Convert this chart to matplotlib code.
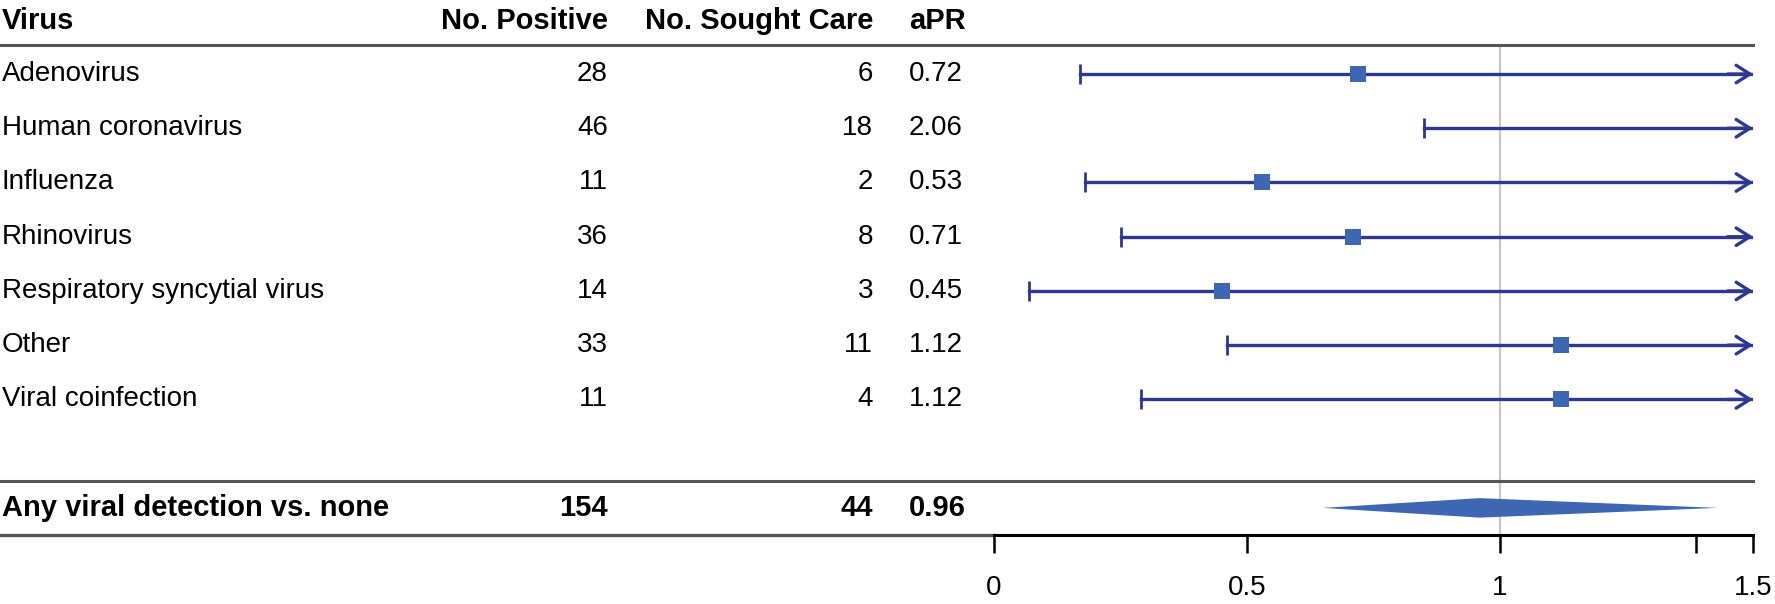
import matplotlib
matplotlib.use("Agg")
from matplotlib import pyplot as plt
from matplotlib import transforms

plt.rcParams['font.family'] = ['Liberation Sans', 'DejaVu Sans']

# data
viruses = ['Adenovirus', 'Human coronavirus', 'Influenza', 'Rhinovirus',
           'Respiratory syncytial virus', 'Other', 'Viral coinfection']
n_positive = [28, 46, 11, 36, 14, 33, 11]
n_care = [6, 18, 2, 8, 3, 11, 4]
apr = [0.72, 2.06, 0.53, 0.71, 0.45, 1.12, 1.12]
ci_low = [0.17, 0.85, 0.18, 0.25, 0.07, 0.46, 0.29]
ci_high = [3.0, 5.0, 1.6, 2.0, 2.9, 2.7, 4.3]  # all run past the axis -> arrows

summary_label = 'Any viral detection vs. none'
summary_pos = 154
summary_care = 44
summary_apr = 0.96
summary_low = 0.65
summary_high = 1.43

headers = ['Virus', 'No. Positive', 'No. Sought Care', 'aPR']
x_ticks = [0, 0.5, 1, 1.5]
x_max = 1.5

W, H = 1775, 604
line_col = '#2e3891'
box_col = '#3d67b3'
rule_col = '#555555'

fig = plt.figure(figsize=(W / 100, H / 100), dpi=100)
ax = fig.add_axes([994 / W, 69 / H, (1753 - 994) / W, 1 - 69 / H])
ax.set_xlim(0, x_max)
ax.set_ylim(8.5, -1.365)

# table text uses figure x (pixels) and data y (rows)
tr = transforms.blended_transform_factory(fig.transFigure, ax.transData)
def px(x):
    return x / W

reg = 20
bold = 21
col_x = [2, 608, 873, 909]

hy = -0.97
ax.text(px(col_x[0]), hy, headers[0], transform=tr, fontsize=bold, weight='bold', va='center', ha='left')
ax.text(px(col_x[1]), hy, headers[1], transform=tr, fontsize=bold, weight='bold', va='center', ha='right')
ax.text(px(col_x[2]), hy, headers[2], transform=tr, fontsize=bold, weight='bold', va='center', ha='right')
ax.text(px(col_x[3]), hy, headers[3], transform=tr, fontsize=bold, weight='bold', va='center', ha='left')

for i, name in enumerate(viruses):
    ax.text(px(col_x[0]), i, name, transform=tr, fontsize=reg, va='center', ha='left')
    ax.text(px(col_x[1]), i, str(n_positive[i]), transform=tr, fontsize=reg, va='center', ha='right')
    ax.text(px(col_x[2]), i, str(n_care[i]), transform=tr, fontsize=reg, va='center', ha='right')
    ax.text(px(col_x[3]), i, '%.2f' % apr[i], transform=tr, fontsize=reg, va='center', ha='left')

sy = 8.0
ax.text(px(col_x[0]), sy, summary_label, transform=tr, fontsize=bold, weight='bold', va='center', ha='left')
ax.text(px(col_x[1]), sy, str(summary_pos), transform=tr, fontsize=bold, weight='bold', va='center', ha='right')
ax.text(px(col_x[2]), sy, str(summary_care), transform=tr, fontsize=bold, weight='bold', va='center', ha='right')
ax.text(px(col_x[3]), sy, '%.2f' % summary_apr, transform=tr, fontsize=bold, weight='bold', va='center', ha='left')

# horizontal rules
for yy in [-0.54, 7.51]:
    ax.plot([0, 1753 / W], [yy, yy], transform=tr, color=rule_col, lw=2.2, clip_on=False)
ax.plot([0, 994 / W], [8.5, 8.5], transform=tr, color=rule_col, lw=2.4, clip_on=False)

# reference line
ax.plot([1, 1], [-0.54, 8.5], color='#c8c8c8', lw=1.6, zorder=1)

# CIs
for i in range(len(viruses)):
    hi = min(ci_high[i], x_max)
    ax.plot([ci_low[i], hi], [i, i], color=line_col, lw=2.4, zorder=2)
    ax.plot([ci_low[i]], [i], marker='|', color=line_col, markersize=15, mew=2, zorder=2)
    if ci_high[i] > x_max:
        ax.annotate('', xy=(x_max, i), xytext=(x_max - 0.05, i),
                    arrowprops=dict(arrowstyle='->,head_length=0.55,head_width=0.35',
                                    color=line_col, lw=2.4, mutation_scale=18,
                                    shrinkA=0, shrinkB=0), zorder=3)
    if apr[i] <= x_max:
        ax.plot([apr[i]], [i], marker='s', color=box_col, markersize=11, mew=0, zorder=4)

# summary diamond
dh = 0.18
ax.fill([summary_low, summary_apr, summary_high, summary_apr],
        [sy, sy - dh, sy, sy + dh], color=box_col, lw=0, zorder=3)

for s in ['top', 'right', 'left']:
    ax.spines[s].set_visible(False)
ax.spines['bottom'].set_linewidth(2.2)
ax.spines['bottom'].set_color('black')
ax.set_yticks([])
ax.set_xticks(x_ticks + [1.387])
ax.set_xticklabels(['0', '0.5', '1', '1.5', ''])
ax.tick_params(axis='x', length=13, width=1.8, pad=16, labelsize=reg, color='black')
ax.patch.set_alpha(0)

fig.savefig('out.png', dpi=100)
